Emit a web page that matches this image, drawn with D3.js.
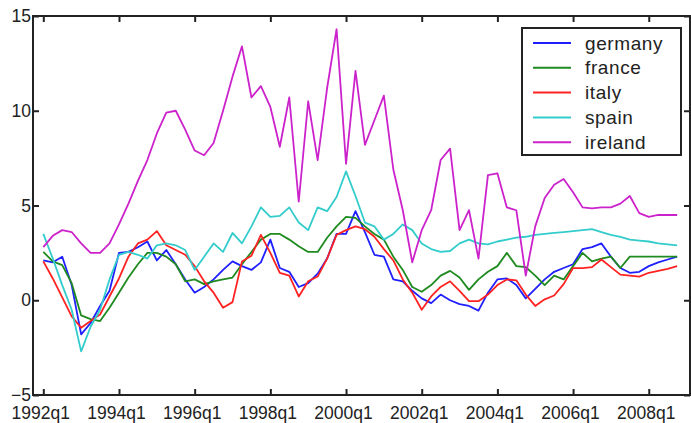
<!DOCTYPE html>
<html>
<head>
<meta charset="utf-8">
<script src="https://cdn.jsdelivr.net/npm/d3@7"></script>
<style>
  body { margin: 0; background: #fff; }
  svg text { font-family: "Liberation Sans", Arial, sans-serif; fill: #222; }
</style>
</head>
<body>
<div id="chart"></div>
<script>
// quarterly series, 1992q1 .. 2008q4
const quarters = [];
for (let y = 1992; y <= 2008; y++) for (let q = 1; q <= 4; q++) quarters.push(y + "q" + q);

const germany = [2.1, 2.0, 2.3, 0.8, -1.8, -1.2, -0.3, 0.5, 2.5, 2.55, 2.8, 3.1, 2.1, 2.65, 1.9, 1.1,
  0.4, 0.7, 1.1, 1.6, 2.05, 1.8, 1.6, 2.0, 3.2, 1.7, 1.5, 0.7, 0.9, 1.4, 2.2, 3.5,
  3.5, 4.7, 3.6, 2.4, 2.3, 1.1, 1.0, 0.5, 0.1, -0.15, 0.3, 0.0, -0.2, -0.3, -0.55, 0.4,
  1.1, 1.15, 0.8, 0.1, 0.6, 1.1, 1.5, 1.7, 1.9, 2.7, 2.8, 3.0, 2.3, 1.7, 1.45, 1.5,
  1.8, 2.0, 2.15, 2.3];
const france = [2.55, 2.05, 1.85, 0.9, -0.8, -1.0, -1.1, -0.4, 0.4, 1.2, 1.9, 2.5, 2.5, 2.3, 1.9, 1.0,
  1.1, 0.85, 1.0, 1.1, 1.2, 1.9, 2.55, 3.2, 3.5, 3.5, 3.2, 2.85, 2.55, 2.55, 3.3, 3.9,
  4.4, 4.35, 3.9, 3.5, 3.2, 2.3, 1.6, 0.7, 0.45, 0.8, 1.3, 1.55, 1.2, 0.55, 1.1, 1.5,
  1.8, 2.5, 1.8, 1.75, 1.3, 0.8, 1.3, 1.1, 1.8, 2.5, 2.05, 2.2, 2.3, 1.7, 2.3, 2.3,
  2.3, 2.3, 2.3, 2.3];
const italy = [2.05, 1.15, 0.15, -0.85, -1.45, -1.1, -0.75, 0.2, 1.15, 2.3, 3.0, 3.2, 3.65, 2.9, 2.65, 2.4,
  1.8, 1.0, 0.4, -0.4, -0.1, 2.05, 2.35, 3.45, 2.5, 1.45, 1.3, 0.2, 1.0, 1.25, 2.2, 3.45,
  3.7, 3.9, 3.75, 3.35, 2.7, 2.1, 1.1, 0.4, -0.5, 0.2, 0.7, 1.0, 0.5, -0.05, -0.05, 0.3,
  0.8, 1.1, 1.05, 0.3, -0.3, 0.05, 0.25, 0.85, 1.7, 1.7, 1.75, 2.15, 1.75, 1.35, 1.3, 1.25,
  1.45, 1.55, 1.65, 1.8];
const spain = [3.5, 2.2, 0.8, -0.5, -2.7, -1.4, -0.5, 1.1, 2.4, 2.55, 2.4, 2.2, 2.9, 3.0, 2.9, 2.65,
  1.6, 2.3, 3.0, 2.55, 3.55, 3.0, 3.9, 4.9, 4.4, 4.45, 4.9, 4.1, 3.7, 4.9, 4.7, 5.45,
  6.8, 5.5, 4.1, 3.9, 3.2, 3.5, 4.0, 3.7, 3.0, 2.7, 2.55, 2.6, 3.0, 3.2, 3.0, 2.95,
  3.1, 3.2, 3.3, 3.35, 3.45, 3.5, 3.55, 3.6, 3.65, 3.7, 3.75, 3.6, 3.45, 3.35, 3.2, 3.15,
  3.1, 3.0, 2.95, 2.9];
const ireland = [2.8, 3.4, 3.7, 3.6, 3.0, 2.5, 2.5, 3.0, 4.0, 5.1, 6.3, 7.4, 8.8, 9.9, 10.0, 9.0,
  7.9, 7.65, 8.3, 10.0, 11.8, 13.4, 10.7, 11.3, 10.2, 8.1, 10.7, 5.2, 10.5, 7.4, 11.2, 14.3,
  7.2, 12.1, 8.2, 9.5, 10.8, 6.9, 4.75, 2.0, 3.7, 4.75, 7.4, 8.0, 3.7, 4.75, 2.2, 6.6,
  6.7, 4.9, 4.75, 1.3, 3.9, 5.4, 6.1, 6.4, 5.7, 4.9, 4.85, 4.9, 4.9, 5.1, 5.5, 4.6,
  4.4, 4.5, 4.5, 4.5];

const seriesNames = ["germany", "france", "italy", "spain", "ireland"];
const seriesValues = [germany, france, italy, spain, ireland];
const seriesColors = ["#1f1fff", "#1f8a1f", "#ff2222", "#33cccc", "#cc22cc"];

const xTickLabels = ["1992q1", "1994q1", "1996q1", "1998q1", "2000q1", "2002q1", "2004q1", "2006q1", "2008q1"];
const yTicks = [-5, 0, 5, 10, 15];

const W = 691, H = 423;
const plot = { left: 33, top: 16, right: 690, bottom: 395 };

const svg = d3.select("#chart").append("svg")
  .attr("width", W).attr("height", H);

const x = d3.scaleLinear().domain([-1.09, 68.36]).range([plot.left, plot.right]);
const y = d3.scaleLinear().domain([-5, 15]).range([plot.bottom, plot.top]);

const xTickIdx = xTickLabels.map(l => quarters.indexOf(l));

// lines
const line = d3.line().x((d, i) => x(i)).y(d => y(d));
svg.append("g").selectAll("path")
  .data(seriesValues)
  .enter().append("path")
  .attr("d", line)
  .attr("fill", "none")
  .attr("stroke", (d, i) => seriesColors[i])
  .attr("stroke-width", 1.8)
  .attr("stroke-linejoin", "round");

// axes, ticks inward
const bottomAxis = svg.append("g")
  .attr("transform", `translate(0,${plot.bottom})`)
  .call(d3.axisBottom(x).tickValues(xTickIdx).tickSizeInner(-6).tickSizeOuter(0).tickPadding(12)
    .tickFormat((d, i) => xTickLabels[i]));
const topAxis = svg.append("g")
  .attr("transform", `translate(0,${plot.top})`)
  .call(d3.axisTop(x).tickValues(xTickIdx).tickSizeInner(-6).tickSizeOuter(0).tickFormat(""));
const leftAxis = svg.append("g")
  .attr("transform", `translate(${plot.left},0)`)
  .call(d3.axisLeft(y).tickValues(yTicks).tickSizeInner(-6).tickSizeOuter(0).tickPadding(4)
    .tickFormat(d3.format("d")));
const rightAxis = svg.append("g")
  .attr("transform", `translate(${plot.right},0)`)
  .call(d3.axisRight(y).tickValues(yTicks).tickSizeInner(-6).tickSizeOuter(0).tickFormat(""));

[bottomAxis, topAxis, leftAxis, rightAxis].forEach(g => {
  g.select(".domain").remove();
  g.selectAll(".tick line").attr("stroke", "#222").attr("stroke-width", 2);
  g.selectAll("text").attr("font-size", 17.5).attr("fill", "#222")
    .style("font-family", "'Liberation Sans', Arial, sans-serif");
});
bottomAxis.selectAll("text").attr("dx", -3);
leftAxis.selectAll("text").attr("dx", 2);

svg.append("rect")
  .attr("x", plot.left).attr("y", plot.top)
  .attr("width", plot.right - plot.left).attr("height", plot.bottom - plot.top)
  .attr("fill", "none").attr("stroke", "#222").attr("stroke-width", 2);

// legend
const legend = svg.append("g").attr("transform", "translate(522,28)");
legend.append("rect")
  .attr("width", 159).attr("height", 127)
  .attr("fill", "#fff").attr("stroke", "#222").attr("stroke-width", 2);
const item = legend.selectAll(".item")
  .data(seriesNames)
  .enter().append("g")
  .attr("class", "item")
  .attr("transform", (d, i) => `translate(0,${15 + i * 24.8})`);
item.append("line")
  .attr("x1", 11).attr("x2", 49)
  .attr("stroke", (d, i) => seriesColors[i])
  .attr("stroke-width", 2);
item.append("text")
  .attr("x", 63).attr("dy", "0.35em")
  .attr("font-size", 19)
  .style("letter-spacing", "0.6px")
  .text(d => d);
</script>
</body>
</html>
